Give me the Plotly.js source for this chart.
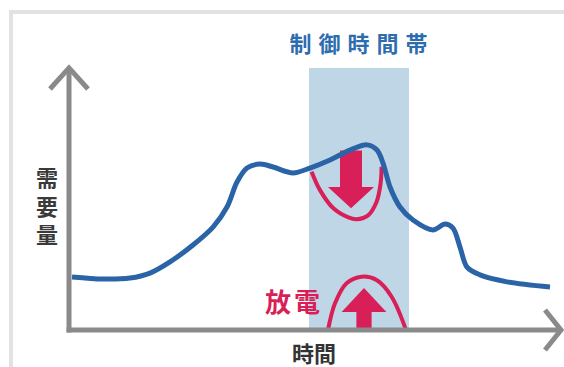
<!DOCTYPE html>
<html><head><meta charset="utf-8">
<script src="https://cdn.plot.ly/plotly-3.0.1.min.js"></script>
<style>
html,body{margin:0;padding:0;background:#fff;}
#chart{width:564px;height:367px;}
.annotation[data-index="0"] text{letter-spacing:7px;}
.annotation[data-index="3"] text{letter-spacing:3px;}
</style>
</head><body><div id="chart"></div>
<script>
// Demand curve (time in hours, demand in relative units)
const hours  = [0.15, 1.7, 3.05, 4.05, 5.05, 6.2, 7.2, 7.9, 8.4, 8.9, 9.55, 10.2, 11.2, 12.05, 13.05, 14.05, 14.9, 15.4, 15.7, 16.05, 16.55, 17.2, 18.2, 18.8, 19.2, 19.55, 19.9, 20.55, 21.9, 24.05];
const demand = [20.4, 19.6, 20.0, 21.9, 26.2, 32.7, 39.6, 47.3, 56.9, 62.3, 63.8, 62.7, 60.4, 62.3, 65.4, 69.2, 71.2, 69.2, 64.2, 55.0, 47.3, 42.3, 38.5, 40.8, 39.2, 31.9, 24.2, 21.2, 18.5, 16.5];

// Control period (band)
const controlPeriod = [12, 17];
const bandTop = 100.8;

// Peak reduction bowl (under the curve)
const reduceArcT = [12.13, 12.55, 13.22, 13.97, 14.38, 14.97, 15.38, 15.58, 15.63];
const reduceArcD = [60.9, 53.8, 46.8, 43.3, 42.6, 44.2, 49.3, 56.4, 62.8];

// Discharge arch (above the time axis)
const dischargeArcT = [12.95, 13.3, 13.88, 14.63, 15.38, 16.13, 16.85];
const dischargeArcD = [0, 10.3, 18.0, 20.5, 19.2, 12.8, 0];

// Arrows: [centre time, tail level, head-base level, tip level]
const downArrow = [14.1, 69, 55, 46.8];
const upArrow   = [14.75, 0, 6.9, 16.2];

// Labels
const titleText = '制御時間帯';
const yLabel = '需要量';
const xLabel = '時間';
const dischargeLabel = '放電';

const BLUE = '#2a63a6', RED = '#d81f57', GRAY = '#8a8a8a';

function arrowPoly(a, shaftHalf, headHalf) {
  const [c, tail, base, tip] = a;
  return {
    x: [c - shaftHalf, c + shaftHalf, c + shaftHalf, c + headHalf, c, c - headHalf, c - shaftHalf, c - shaftHalf],
    y: [tail, tail, base, base, tip, base, base, tail]
  };
}
const dA = arrowPoly(downArrow, 0.55, 1.15);
const uA = arrowPoly(upArrow, 0.38, 1.12);

const traces = [
  {x: dA.x, y: dA.y, mode: 'lines', fill: 'toself', fillcolor: RED, line: {width: 0, color: RED}, hoverinfo: 'skip'},
  {x: uA.x, y: uA.y, mode: 'lines', fill: 'toself', fillcolor: RED, line: {width: 0, color: RED}, hoverinfo: 'skip'},
  {x: reduceArcT, y: reduceArcD, mode: 'lines', line: {color: RED, width: 4, shape: 'spline', smoothing: 1}, hoverinfo: 'skip'},
  {x: dischargeArcT, y: dischargeArcD, mode: 'lines', line: {color: RED, width: 4, shape: 'spline', smoothing: 1}, hoverinfo: 'skip'},
  {x: hours, y: demand, mode: 'lines', line: {color: BLUE, width: 5, shape: 'spline', smoothing: 0.9}, hoverinfo: 'skip'}
];

const W = 564, H = 367;
const font = '"Noto Sans CJK JP", "Noto Sans CJK SC", sans-serif';

const layout = {
  width: W, height: H,
  margin: {l: 0, r: 0, t: 0, b: 0},
  paper_bgcolor: '#fff', plot_bgcolor: '#fff',
  showlegend: false,
  xaxis: {range: [-3.45, 24.75], visible: false, fixedrange: true},
  yaxis: {range: [-14.23, 126.92], visible: false, fixedrange: true},
  shapes: [
    {type: 'rect', xref: 'x', yref: 'y', x0: controlPeriod[0], x1: controlPeriod[1], y0: 0, y1: bandTop,
     fillcolor: '#bed6e6', line: {width: 0}, layer: 'below'},
    // frame
    {type: 'line', xref: 'paper', yref: 'paper', x0: 11/W, x1: 1, y0: 1 - 12/H, y1: 1 - 12/H, line: {color: '#e2e2e2', width: 4}},
    {type: 'line', xref: 'paper', yref: 'paper', x0: 11/W, x1: 11/W, y0: 0, y1: 1 - 10/H, line: {color: '#e2e2e2', width: 4}},
    // axes
    {type: 'line', xref: 'x', yref: 'y', x0: 0, x1: 0, y0: -1, y1: 100.5, line: {color: GRAY, width: 5}},
    {type: 'line', xref: 'x', yref: 'y', x0: -0.12, x1: 24.5, y0: 0, y1: 0, line: {color: GRAY, width: 5}},
    {type: 'path', xref: 'x', yref: 'y', path: 'M -0.95,92.7 L 0,100.8 L 0.95,92.7', line: {color: GRAY, width: 5}},
    {type: 'path', xref: 'x', yref: 'y', path: 'M 23.8,7.7 L 24.6,0 L 23.8,-7.7', line: {color: GRAY, width: 5}}
  ],
  annotations: [
    {text: titleText, xref: 'paper', yref: 'paper', x: 362/W, y: 1 - 42/H, xanchor: 'center', yanchor: 'middle',
     showarrow: false, font: {family: font, size: 22, color: '#2e6cb0', weight: 'bold'}},
    {text: yLabel.split('').join('<br>'), xref: 'paper', yref: 'paper', x: 47/W, y: 1 - 204/H, xanchor: 'center', yanchor: 'middle',
     showarrow: false, font: {family: font, size: 22, color: '#3a3a3a', weight: 'bold'}},
    {text: xLabel, xref: 'paper', yref: 'paper', x: 314/W, y: 1 - 352/H, xanchor: 'center', yanchor: 'middle',
     showarrow: false, font: {family: font, size: 22, color: '#333333', weight: 'bold'}},
    {text: dischargeLabel, xref: 'paper', yref: 'paper', x: 294/W, y: 1 - 300/H, xanchor: 'center', yanchor: 'middle',
     showarrow: false, font: {family: font, size: 26, color: RED, weight: 'bold'}}
  ]
};

Plotly.newPlot('chart', traces, layout, {staticPlot: true, displayModeBar: false});
</script>
</body></html>
